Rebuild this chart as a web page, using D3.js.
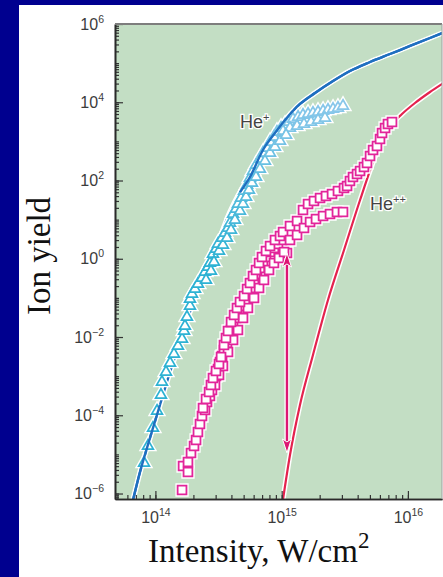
<!DOCTYPE html>
<html>
<head>
<meta charset="utf-8">
<script src="https://cdn.jsdelivr.net/npm/d3@7"></script>
<style>
  html, body { margin: 0; padding: 0; background: #00008f; }
  svg { display: block; }
</style>
</head>
<body>
<svg id="chart" width="443" height="577"></svg>
<script>
// values, stored as [log10 intensity (W/cm2), log10 ion yield]
const heSingleTheory = [
  [13.815, -6.267], [13.878, -5.449], [13.957, -4.580], [14.036, -3.737], [14.116, -2.893],
  [14.195, -2.127], [14.274, -1.360], [14.353, -0.670], [14.432, -0.031], [14.512, 0.557],
  [14.591, 1.200], [14.670, 1.700], [14.749, 2.090], [14.852, 2.780], [14.947, 3.214],
  [15.027, 3.547], [15.145, 3.956], [15.264, 4.237], [15.407, 4.543], [15.541, 4.799],
  [15.700, 5.029], [15.858, 5.233], [16.017, 5.438], [16.175, 5.642], [16.294, 5.796]
];
const heSingleData = [
  [13.910, -5.193], [13.941, -4.759], [13.981, -4.299], [14.013, -3.865], [14.044, -3.456],
  [14.052, -3.123], [14.084, -2.868], [14.116, -2.638], [14.147, -2.408], [14.179, -2.203],
  [14.211, -2.025], [14.227, -1.820], [14.234, -1.692], [14.250, -1.462], [14.274, -1.181],
  [14.274, -1.002], [14.290, -0.875], [14.314, -0.747], [14.337, -0.619], [14.369, -0.466],
  [14.393, -0.312], [14.417, -0.185], [14.432, -0.082], [14.456, 0.148], [14.480, 0.275],
  [14.496, 0.403], [14.528, 0.557], [14.551, 0.684], [14.575, 0.812], [14.591, 0.940],
  [14.615, 1.170], [14.638, 1.298], [14.654, 1.425], [14.678, 1.579], [14.702, 1.758],
  [14.726, 1.911], [14.749, 2.090], [14.773, 2.269], [14.797, 2.422], [14.828, 2.575],
  [14.852, 2.729], [14.884, 2.857], [14.908, 3.010], [14.939, 3.138], [14.963, 3.266],
  [14.995, 3.368], [15.027, 3.444], [15.058, 3.521], [15.090, 3.598], [15.130, 3.649],
  [15.169, 3.700], [15.209, 3.726], [15.248, 3.751], [15.288, 3.777], [15.328, 3.802],
  [15.367, 3.828], [15.407, 3.853], [15.446, 3.879], [15.486, 3.930],
  [15.011, 3.291], [15.066, 3.368], [15.122, 3.419], [15.177, 3.470], [15.233, 3.521],
  [15.288, 3.572], [15.343, 3.623],
  [14.401, -0.517], [14.440, -0.287], [14.464, -0.057], [14.504, 0.224], [14.535, 0.378],
  [14.567, 0.557], [14.599, 0.761], [14.630, 1.017], [14.670, 1.247], [14.694, 1.425],
  [14.718, 1.604], [14.741, 1.783], [14.765, 1.962], [14.797, 2.116], [14.828, 2.320],
  [14.868, 2.524], [14.908, 2.729], [14.947, 2.882], [14.987, 3.036], [15.035, 3.189]
];
const heDoubleTheory = [
  [15.003, -6.318], [15.066, -5.015], [15.145, -3.737], [15.248, -2.459], [15.367, -1.053],
  [15.494, 0.224], [15.621, 1.502], [15.716, 2.397], [15.795, 3.036], [15.874, 3.444],
  [15.953, 3.700], [16.056, 3.981], [16.175, 4.262], [16.294, 4.518]
];
const heDoubleData = [
  [14.211, -5.909], [14.219, -5.296], [14.258, -5.193], [14.258, -5.449], [14.282, -4.963],
  [14.306, -4.785], [14.322, -4.631], [14.337, -4.427], [14.353, -4.222], [14.369, -4.018],
  [14.393, -3.865], [14.409, -3.660], [14.432, -3.507], [14.448, -3.353], [14.464, -3.175],
  [14.480, -2.996], [14.496, -2.817], [14.512, -2.638], [14.528, -2.485], [14.543, -2.331],
  [14.567, -2.152], [14.583, -1.973], [14.599, -1.820], [14.615, -1.667], [14.638, -1.513],
  [14.662, -1.360], [14.686, -1.207], [14.710, -1.053], [14.733, -0.900], [14.757, -0.747],
  [14.781, -0.568], [14.805, -0.389], [14.828, -0.236], [14.852, -0.082], [14.876, 0.045],
  [14.908, 0.173], [14.939, 0.276], [14.971, 0.378], [15.003, 0.480], [15.042, 0.148],
  [14.472, -3.226], [14.504, -2.970], [14.535, -2.740], [14.575, -2.382], [14.615, -2.076],
  [14.654, -1.820], [14.694, -1.513], [14.733, -1.258], [14.781, -1.002], [14.821, -0.747],
  [14.860, -0.542], [14.900, -0.287], [14.939, -0.108], [14.979, 0.020], [15.019, 0.173],
  [14.377, -3.813], [14.401, -3.584], [14.425, -3.405], [14.440, -3.226], [14.456, -3.047],
  [14.480, -2.868], [14.504, -2.689], [14.520, -2.510], [14.543, -2.203], [14.559, -2.025],
  [14.575, -1.846], [14.599, -1.616], [14.623, -1.437], [14.646, -1.258], [14.670, -1.105],
  [14.702, -0.951], [14.726, -0.772], [14.749, -0.619], [14.773, -0.440], [14.797, -0.287],
  [14.821, -0.108], [14.844, 0.045], [14.876, 0.199], [14.908, 0.327], [14.947, 0.480],
  [14.987, 0.582],
  [15.011, 0.684], [15.066, 0.838], [15.122, 0.965], [15.169, 1.247], [15.209, 1.400],
  [15.256, 1.477], [15.304, 1.553], [15.351, 1.604], [15.399, 1.655], [15.446, 1.732],
  [15.494, 1.809],
  [15.066, 0.480], [15.122, 0.608], [15.177, 0.787], [15.225, 0.940], [15.272, 1.017],
  [15.328, 1.093], [15.383, 1.144], [15.438, 1.195], [15.486, 1.195],
  [15.518, 1.860], [15.541, 1.988], [15.565, 2.090], [15.597, 2.167], [15.621, 2.243],
  [15.652, 2.345], [15.676, 2.448], [15.700, 2.627], [15.724, 2.780], [15.755, 2.882],
  [15.779, 3.061], [15.795, 3.214], [15.819, 3.342], [15.842, 3.444], [15.874, 3.496]
];
const arrowLogI = 15.042;
const arrowLogY = [0.148, -4.963];
const xTickExps = [14, 15, 16];
const yTickExps = [-6, -4, -2, 0, 2, 4, 6];
const seriesLabels = [
  { name: "He", sup: "+", logI: 14.670, logY: 3.342 },
  { name: "He", sup: "++", logI: 15.700, logY: 1.247 }
];

const plot = { left: 115, top: 24, right: 442, bottom: 499 };
const svg = d3.select("#chart");

// white panel behind the figure
svg.append("rect").attr("x", 19).attr("y", 5).attr("width", 424).attr("height", 572).attr("fill", "#fff");

const x = d3.scaleLog().domain([10 ** 13.68, 10 ** 16.27]).range([plot.left, plot.right]);
const y = d3.scaleLog().domain([10 ** -6.14, 10 ** 6]).range([plot.bottom, plot.top]);
const px = d => x(10 ** d[0]);
const py = d => y(10 ** d[1]);

svg.append("defs").append("clipPath").attr("id", "clip")
  .append("rect").attr("x", plot.left).attr("y", plot.top)
  .attr("width", plot.right - plot.left).attr("height", plot.bottom - plot.top);

svg.append("rect").attr("x", plot.left).attr("y", plot.top)
  .attr("width", plot.right - plot.left).attr("height", plot.bottom - plot.top)
  .attr("fill", "#c3dec4");

const g = svg.append("g").attr("clip-path", "url(#clip)");
const line = d3.line().x(px).y(py).curve(d3.curveMonotoneX);

// theory curves under the points, with a white halo
function drawCurve(data, color, width) {
  g.append("path").datum(data).attr("d", line).attr("fill", "none")
    .attr("stroke", "#fff").attr("stroke-width", width + 3);
  g.append("path").datum(data).attr("d", line).attr("fill", "none")
    .attr("stroke", color).attr("stroke-width", width);
}
drawCurve(heSingleTheory, "#1f6fc0", 2.4);
drawCurve(heDoubleTheory, "#e4224e", 2.2);

// measured points
const tri = d3.symbol(d3.symbolTriangle).size(50);
const sq = d3.symbol(d3.symbolSquare).size(78);
const triColor = d3.scaleLinear().domain([0, 3.9]).range(["#2db2d3", "#88c7ea"]).clamp(true);

g.selectAll(".tri-halo").data(heSingleData).enter().append("path")
  .attr("d", tri).attr("transform", d => `translate(${px(d)},${py(d) + 1})`)
  .attr("fill", "#fff").attr("stroke", "#fff").attr("stroke-width", 4.5);
g.selectAll(".tri").data(heSingleData).enter().append("path")
  .attr("d", tri).attr("transform", d => `translate(${px(d)},${py(d) + 1})`)
  .attr("fill", "#fff").attr("stroke", d => triColor(d[1])).attr("stroke-width", 1.7);

g.selectAll(".sq-halo").data(heDoubleData).enter().append("path")
  .attr("d", sq).attr("transform", d => `translate(${px(d)},${py(d)})`)
  .attr("fill", "#fff").attr("stroke", "#fff").attr("stroke-width", 4.5);
g.selectAll(".sq").data(heDoubleData).enter().append("path")
  .attr("d", sq).attr("transform", d => `translate(${px(d)},${py(d)})`)
  .attr("fill", "#fff").attr("stroke", "#e2259a").attr("stroke-width", 1.8);

// He+ curve shows through the sparse low points and runs above the upper ones
const overLow = heSingleTheory.filter(d => d[1] <= -3.7);
const overHigh = heSingleTheory.filter(d => d[1] >= 1.7);
[overLow, overHigh].forEach(seg => {
  g.append("path").datum(seg).attr("d", line).attr("fill", "none")
    .attr("stroke", "#1f6fc0").attr("stroke-width", 2.4);
});

// double-headed arrow
const ax = x(10 ** arrowLogI);
const ay0 = y(10 ** arrowLogY[0]), ay1 = y(10 ** arrowLogY[1]);
g.append("line").attr("x1", ax).attr("x2", ax).attr("y1", ay0 + 10).attr("y2", ay1 - 10)
  .attr("stroke", "#fff").attr("stroke-width", 5);
g.append("line").attr("x1", ax).attr("x2", ax).attr("y1", ay0 + 10).attr("y2", ay1 - 10)
  .attr("stroke", "#dd1673").attr("stroke-width", 2.4);
[[ay0, 1], [ay1, -1]].forEach(([tip, dir]) => {
  g.append("path")
    .attr("d", `M${ax},${tip}L${ax - 4.5},${tip + dir * 14}L${ax},${tip + dir * 11}L${ax + 4.5},${tip + dir * 14}Z`)
    .attr("fill", "#dd1673").attr("stroke", "#fff").attr("stroke-width", 1);
});

// series labels
seriesLabels.forEach(l => {
  const t = svg.append("text")
    .attr("x", x(10 ** l.logI)).attr("y", y(10 ** l.logY))
    .attr("font-family", "Liberation Sans, Arial, sans-serif").attr("font-size", 18)
    .attr("fill", "#444").attr("stroke", "#fff").attr("stroke-width", 2.5)
    .attr("paint-order", "stroke").text(l.name);
  t.append("tspan").attr("dy", -7).attr("font-size", 11).text(l.sup);
});

// axes
const supText = e => (e < 0 ? "\u2212" + (-e) : String(e));
function minorValues(lo, hi) {
  return d3.range(lo, hi).flatMap(e => d3.range(1, 10).map(m => m * 10 ** e));
}
const yMinor = minorValues(-7, 6).filter(v => v >= y.domain()[0] && v <= y.domain()[1]);
const xMinor = minorValues(13, 17).filter(v => v >= x.domain()[0] && v <= x.domain()[1]);

const yAxisG = svg.append("g").attr("transform", `translate(${plot.left},0)`);
yAxisG.append("g").call(d3.axisLeft(y).tickValues(yMinor).tickSize(-4).tickSizeOuter(0).tickFormat(""))
  .selectAll("text").remove();
const yMajorG = yAxisG.append("g").call(d3.axisLeft(y).tickValues(yTickExps.map(e => 10 ** e))
  .tickSize(-8).tickSizeOuter(0).tickPadding(11).tickFormat(""));

const xAxisG = svg.append("g").attr("transform", `translate(0,${plot.bottom})`);
xAxisG.append("g").call(d3.axisBottom(x).tickValues(xMinor).tickSize(-4).tickSizeOuter(0).tickFormat(""))
  .selectAll("text").remove();
const xMajorG = xAxisG.append("g").call(d3.axisBottom(x).tickValues(xTickExps.map(e => 10 ** e))
  .tickSize(-8).tickSizeOuter(0).tickPadding(13).tickFormat(""));

svg.selectAll(".tick line").attr("stroke", "#333").attr("stroke-width", 1.2);
svg.selectAll(".domain").attr("stroke", "#2a2a2a").attr("stroke-width", 1.6);

function labelTicks(sel) {
  sel.selectAll(".tick text").each(function (d) {
    const e = Math.round(Math.log10(d));
    const t = d3.select(this).text("10")
      .attr("font-family", "Liberation Sans, Arial, sans-serif")
      .attr("font-size", 16).attr("fill", "#3c3c3c");
    t.append("tspan").attr("dy", -7).attr("font-size", 10.5).text(supText(e));
  });
}
labelTicks(yMajorG);
labelTicks(xMajorG);

// frame: top and right
svg.append("line").attr("x1", plot.left).attr("x2", plot.right).attr("y1", plot.top).attr("y2", plot.top)
  .attr("stroke", "#7d7d7d").attr("stroke-width", 2);
svg.append("line").attr("x1", plot.right).attr("x2", plot.right).attr("y1", plot.top).attr("y2", plot.bottom)
  .attr("stroke", "#a0a0a0").attr("stroke-width", 1);

// axis titles
svg.append("text")
  .attr("transform", `translate(50,256) rotate(-90)`)
  .attr("text-anchor", "middle")
  .attr("font-family", "Liberation Serif, Times New Roman, serif")
  .attr("font-size", 33).attr("fill", "#111")
  .text("Ion yield");

const xt = svg.append("text")
  .attr("x", 148).attr("y", 562)
  .attr("font-family", "Liberation Serif, Times New Roman, serif")
  .attr("font-size", 33).attr("fill", "#111")
  .text("Intensity, W/cm");
xt.append("tspan").attr("dy", -14).attr("font-size", 23).text("2");
</script>
</body>
</html>
